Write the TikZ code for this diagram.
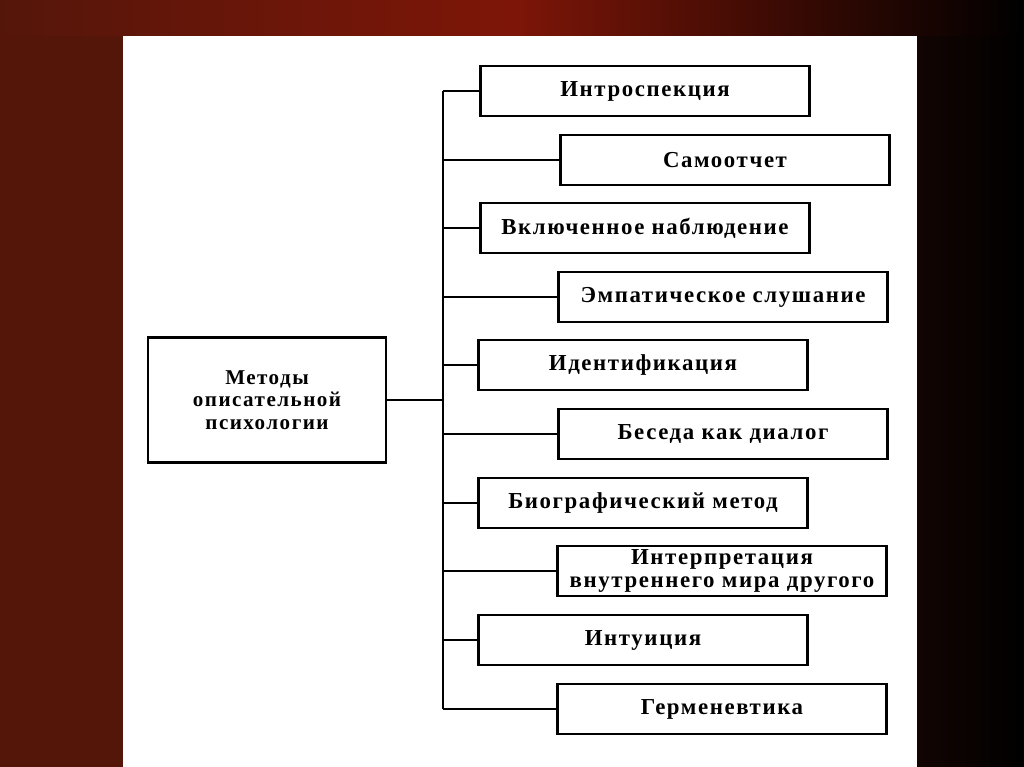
\documentclass[tikz,border=0pt]{standalone}
\usepackage{fontspec}
\setmainfont{Liberation Serif}
\newfontfamily\boxfont[LetterSpace=7]{Liberation Serif}
\usepackage{tikz}
\usetikzlibrary{positioning}

\definecolor{curtainred}{RGB}{125,22,8}
\definecolor{curtaindark}{RGB}{85,22,10}

\begin{document}
\begin{tikzpicture}[x=0.02cm, y=-0.02cm,
    box/.style={draw, line width=1.6pt, rectangle, fill=white, minimum width=6.58cm, minimum height=1cm, inner sep=2pt, align=center, font=\boxfont\bfseries\fontsize{13}{12.5}\selectfont},
    link/.style={line width=1.1pt}]
        % Curtain and panel
        \useasboundingbox (0,0) rectangle (1024,767);
        \shade[left color=curtaindark, right color=black, middle color=curtaindark] (0,0) rectangle (1024,767);
        \shade[left color=curtaindark, right color=black, middle color=curtainred] (0,0) rectangle (1024,36);
        \fill[white] (123,36) rectangle (917,767);
        
        % Main box
        \node[box, minimum width=4.76cm, minimum height=2.5cm, font=\boxfont\bfseries\fontsize{12}{12.8}\selectfont] at (267,400) (main) {Методы\\описательной\\психологии};
        
        % Methods
        \node[box] at (645,91) (intro) {Интроспекция};
        \node[box] at (725,160) (report) {Самоотчет};
        \node[box] at (645,228) (observ) {Включенное наблюдение};
        \node[box] at (723,297) (empat) {Эмпатическое слушание};
        \node[box] at (643,365) (ident) {Идентификация};
        \node[box] at (723,434) (dialog) {Беседа как диалог};
        \node[box] at (643,503) (biogr) {Биографический метод};
        \node[box, font=\boxfont\bfseries\fontsize{13}{12.8}\selectfont] at (722,571) (interp) {Интерпретация\\внутреннего мира другого};
        \node[box] at (643,640) (intuit) {Интуиция};
        \node[box] at (722,709) (herm) {Герменевтика};
        
        % Trunk
        \coordinate (trunk) at (443,0);
        \draw[link] (intro.west -| trunk) -- (herm.west -| trunk);
        \draw[link] (main.east) -- (main.east -| trunk);
        
        % Branches
        \foreach \m in {intro,report,observ,empat,ident,dialog,biogr,interp,intuit,herm}
            \draw[link] (\m.west -| trunk) -- (\m.west);
    \end{tikzpicture}
\end{document}
